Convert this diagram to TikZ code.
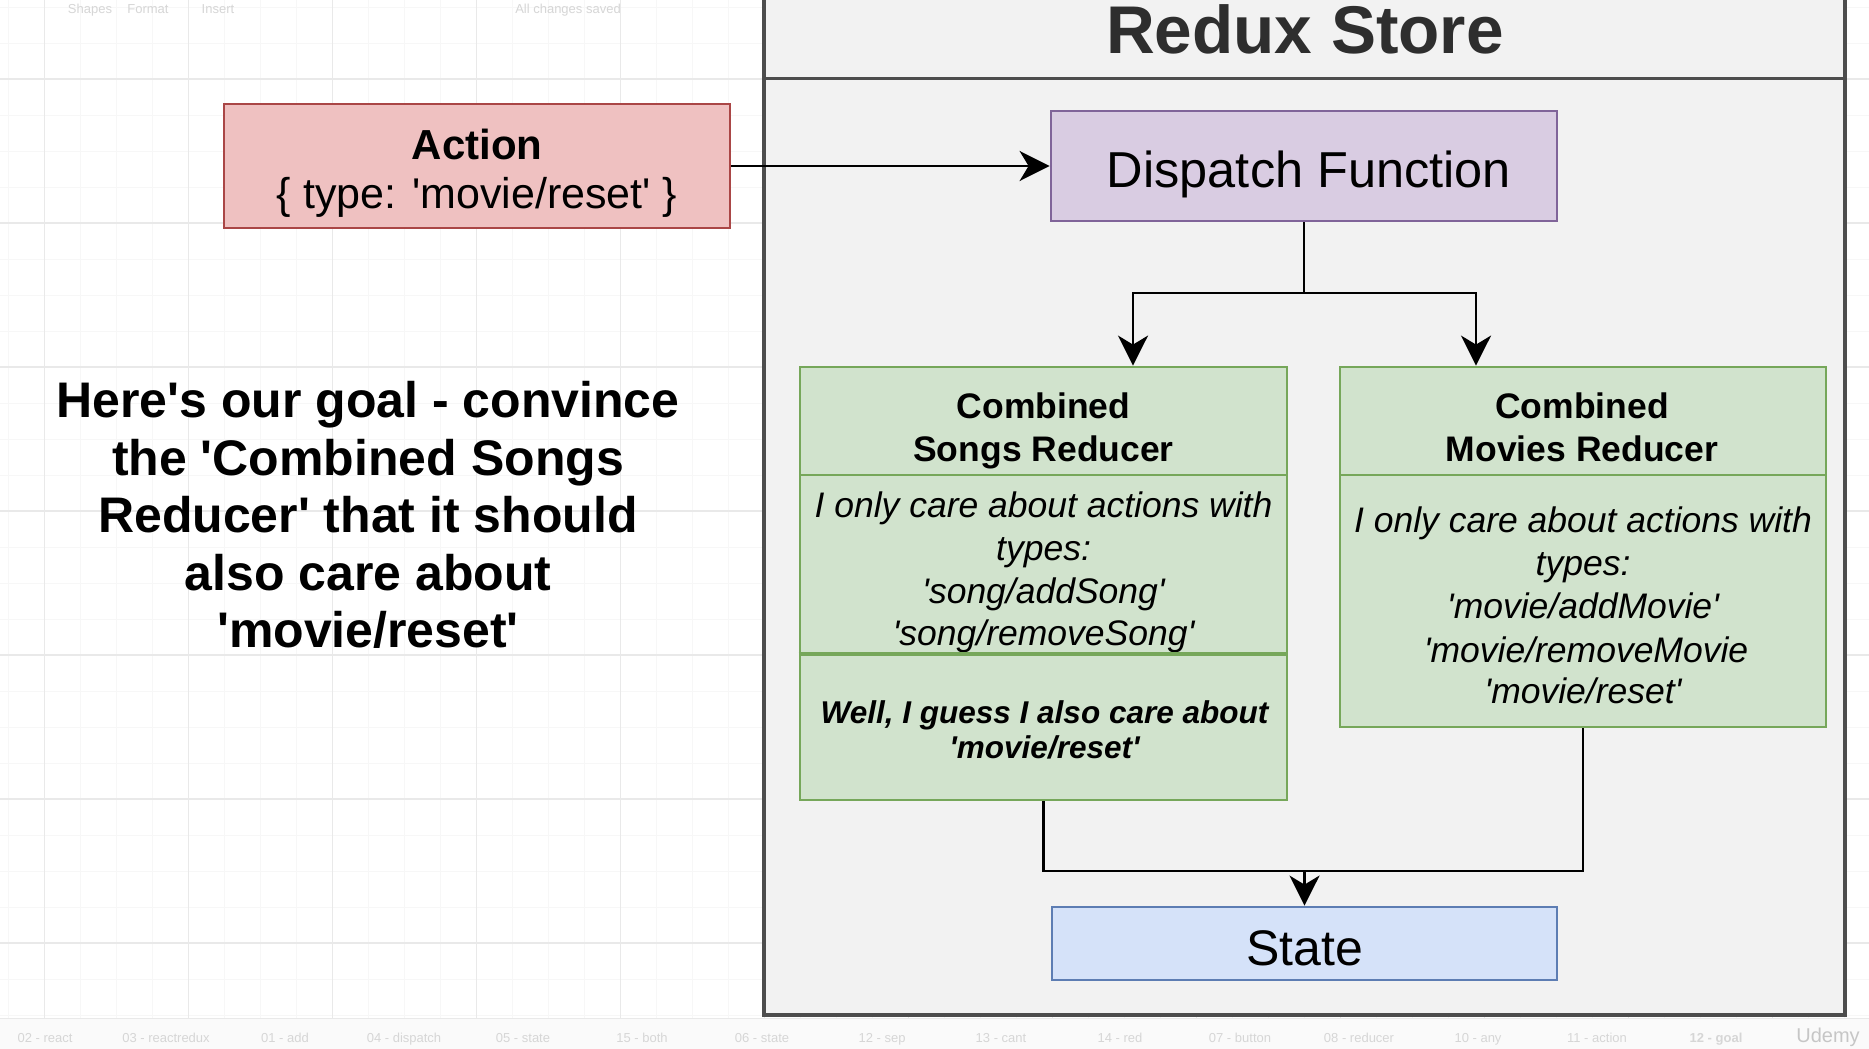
\documentclass[tikz,border=0pt]{standalone}
\usepackage{fontspec}
\setmainfont{Liberation Sans}
\usetikzlibrary{arrows.meta}
\newcommand\sq{\textquotesingle}
\definecolor{gridmaj}{HTML}{E9E9E9}
\definecolor{gridmin}{HTML}{F7F7F7}
\definecolor{storefill}{HTML}{F2F2F2}
\definecolor{storeline}{HTML}{4D4D4D}
\definecolor{titlecol}{HTML}{2E2E2E}
\definecolor{redfill}{HTML}{EFC1C1}
\definecolor{redline}{HTML}{AA4646}
\definecolor{purfill}{HTML}{D9CCE2}
\definecolor{purline}{HTML}{806499}
\definecolor{grnfill}{HTML}{D1E3CD}
\definecolor{grnline}{HTML}{76A75A}
\definecolor{blufill}{HTML}{D5E2F9}
\definecolor{bluline}{HTML}{5D7DB3}
\definecolor{uitext}{HTML}{D6D6D6}
\begin{document}
\begin{tikzpicture}[x=1pt,y=-1pt,
  box/.style={draw, line width=2.8pt, inner sep=0pt},
  lbl/.style={inner sep=0pt, anchor=base},
  wire/.style={line width=2.8pt},
  arr/.style={line width=2.8pt, -{Stealth[length=30pt,width=30pt,inset=9pt]}},
  ui/.style={inner sep=0pt, anchor=base, text=uitext, font=\fontsize{13}{15}\selectfont},
  hdr/.style={lbl, font=\fontsize{35.5}{43}\selectfont\bfseries},
  bod/.style={lbl, font=\fontsize{35.5}{43}\selectfont\itshape},
  goal/.style={lbl, font=\fontsize{50}{57}\selectfont\bfseries}
]
\useasboundingbox (0,0) rectangle (1869,1049);
\clip (0,0) rectangle (1869,1049);
\fill[white] (0,0) rectangle (1869,1049);
% grid
\foreach \gx in {8.6,44.6,...,1869} \draw[gridmin, line width=0.8pt] (\gx,0) -- (\gx,1018);
\foreach \gy in {7,43,...,1018} \draw[gridmin, line width=0.8pt] (0,\gy) -- (1869,\gy);
\foreach \gx in {44.6,188.6,...,1869} \draw[gridmaj, line width=1.2pt] (\gx,0) -- (\gx,1018);
\foreach \gy in {79,223,...,1018} \draw[gridmaj, line width=1.2pt] (0,\gy) -- (1869,\gy);
% UI chrome (faint)
\node[ui] (t1) at (90,14) {Shapes};
\node[ui] (t2) at (148,14) {Format};
\node[ui] (t3) at (218,14) {Insert};
\node[ui] (t4) at (568,14) {All changes saved};
\fill[white!98!black] (0,1018) rectangle (1869,1049);
\draw[gridmaj, line width=1pt] (0,1018) -- (1869,1018);
\node[ui] (b1) at (45,1042) {02 - react};
\node[ui] (b2) at (166,1042) {03 - reactredux};
\node[ui] (b3) at (285,1042) {01 - add};
\node[ui] (b4) at (404,1042) {04 - dispatch};
\node[ui] (b5) at (523,1042) {05 - state};
\node[ui] (b6) at (642,1042) {15 - both};
\node[ui] (b7) at (762,1042) {06 - state};
\node[ui] (b8) at (882,1042) {12 - sep};
\node[ui] (b9) at (1001,1042) {13 - cant};
\node[ui] (b10) at (1120,1042) {14 - red};
\node[ui] (b11) at (1240,1042) {07 - button};
\node[ui] (b12) at (1359,1042) {08 - reducer};
\node[ui] (b13) at (1478,1042) {10 - any};
\node[ui] (b14) at (1597,1042) {11 - action};
\node[ui, font=\fontsize{13}{15}\selectfont\bfseries] (b15) at (1716,1042) {12 - goal};
\node[ui, text=gray!45, font=\fontsize{20}{22}\selectfont] (b16) at (1828,1042) {Udemy};
% store container
\node[box, draw=storeline, fill=storefill, line width=3.2pt, minimum width=1081pt, minimum height=1035pt] (store) at (1304.5,497.5) {};
\draw[storeline, line width=3pt] (store.west |- 0,79) -- (store.east |- 0,79);
\node[lbl, text=titlecol, font=\fontsize{67.5}{72}\selectfont\bfseries] (title) at (1305,54) {Redux Store};
% action
\node[box, draw=redline, fill=redfill, minimum width=506pt, minimum height=124pt] (action) at (477,166) {};
\node[lbl, font=\fontsize{42}{48}\selectfont\bfseries] (actT) at (477,159) {Action};
\node[lbl, font=\fontsize{43}{48}\selectfont] (actB) at (477,208) {\{ type: \sq movie/reset\sq{} \}};
% dispatch
\node[box, draw=purline, fill=purfill, minimum width=506pt, minimum height=110pt] (dispatch) at (1304,166) {};
\node[lbl, font=\fontsize{50.5}{56}\selectfont] (dispT) at (1309,187) {Dispatch Function};
% songs reducer
\node[box, draw=grnline, fill=grnfill, minimum width=487pt, minimum height=108pt] (songsh) at (1043.5,421) {};
\node[box, draw=grnline, fill=grnfill, minimum width=487pt, minimum height=180pt] (songsb) at (1043.5,565) {};
\node[box, draw=grnline, fill=grnfill, minimum width=487pt, minimum height=145pt] (songsx) at (1043.5,727.5) {};
\node[hdr] (sh1) at (1043.5,418) {Combined};
\node[hdr] (sh2) at (1043.5,461) {Songs Reducer};
\node[bod] (sb1) at (1043.5,517) {I only care about actions with};
\node[bod] (sb2) at (1043.5,560) {types:};
\node[bod] (sb3) at (1043.5,603) {\sq song/addSong\sq};
\node[bod] (sb4) at (1043.5,645) {\sq song/removeSong\sq};
\draw[grnline, line width=2.8pt] (songsx.north west) -- (songsx.north east);
\node[lbl, font=\fontsize{31.5}{36}\selectfont\bfseries\itshape] (sx1) at (1044.5,723) {Well, I guess I also care about};
\node[lbl, font=\fontsize{31.5}{36}\selectfont\bfseries\itshape] (sx2) at (1044.5,758) {\sq movie/reset\sq};
% movies reducer
\node[box, draw=grnline, fill=grnfill, minimum width=486pt, minimum height=108pt] (moviesh) at (1583,421) {};
\node[box, draw=grnline, fill=grnfill, minimum width=486pt, minimum height=252pt] (moviesb) at (1583,601) {};
\node[hdr] (mh1) at (1582,418) {Combined};
\node[hdr] (mh2) at (1582,461) {Movies Reducer};
\node[bod] (mb1) at (1583,532) {I only care about actions with};
\node[bod] (mb2) at (1583,575) {types:};
\node[bod] (mb3) at (1583,618) {\sq movie/addMovie\sq};
\node[bod] (mb4) at (1586,662) {\sq movie/removeMovie};
\node[bod] (mb5) at (1583,703) {\sq movie/reset\sq};
% state
\node[box, draw=bluline, fill=blufill, minimum width=505pt, minimum height=73pt] (state) at (1304.5,943.5) {};
\node[lbl, font=\fontsize{50}{56}\selectfont] (stT) at (1304.5,965) {State};
% connectors
\draw[arr] (action.east) -- (dispatch.west);
\coordinate (split) at (1304,293);
\coordinate (sL) at (1133,293);
\coordinate (sR) at (1476,293);
\draw[wire] (dispatch.south) -- (split);
\draw[arr] (split) -- (sL) -- (sL |- songsh.north);
\draw[arr] (split) -- (sR) -- (sR |- moviesh.north);
\coordinate (mj) at (1304.5,871);
\draw[wire] (songsx.south) |- (mj);
\draw[wire] (moviesb.south) |- (mj);
\draw[arr] (mj) -- (state.north);
% left explanatory text
\node[goal] (g1) at (368,417) {Here\sq s our goal - convince};
\node[goal] (g2) at (368,475) {the \sq Combined Songs};
\node[goal] (g3) at (368,532) {Reducer\sq{} that it should};
\node[goal] (g4) at (368,590) {also care about};
\node[goal] (g5) at (368,647) {\sq movie/reset\sq};
\end{tikzpicture}
\end{document}
